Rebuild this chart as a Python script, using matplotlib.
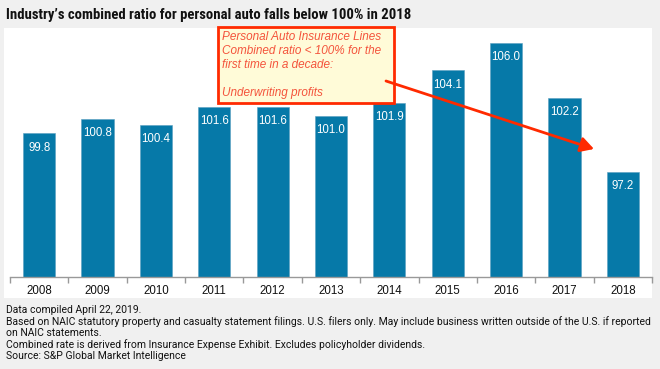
import matplotlib
matplotlib.use("Agg")
import matplotlib.pyplot as plt
from matplotlib.patches import Rectangle, FancyArrowPatch

years = ["2008", "2009", "2010", "2011", "2012", "2013", "2014", "2015", "2016", "2017", "2018"]
ratios = [99.8, 100.8, 100.4, 101.6, 101.6, 101.0, 101.9, 104.1, 106.0, 102.2, 97.2]
title = "Industry\u2019s combined ratio for personal auto falls below 100% in 2018"
note_lines = [
    "Personal Auto Insurance Lines",
    "Combined ratio < 100% for the",
    "first time in a decade:",
    "",
    "Underwriting profits",
]
footer = [
    "Data compiled April 22, 2019.",
    "Based on NAIC statutory property and casualty statement filings. U.S. filers only. May include business written outside of the U.S. if reported",
    "on NAIC statements.",
    "Combined rate is derived from Insurance Expense Exhibit. Excludes policyholder dividends.",
    "Source: S&P Global Market Intelligence",
]

TITLE_FONT = ["Roboto Condensed", "DejaVu Sans"]
FOOT_FONT = ["Roboto", "DejaVu Sans"]
BODY = ["Liberation Sans", "DejaVu Sans"]

W, H = 660, 369
fig = plt.figure(figsize=(W / 100, H / 100), dpi=100, facecolor="#f0f0f0")

def fx(x):
    return x / W

def fy(y):
    return 1 - y / H

# white panel
fig.patches.append(Rectangle((fx(4), fy(298)), fx(652) - fx(4), fy(28) - fy(298),
                             transform=fig.transFigure, facecolor="white", edgecolor="none", zorder=-1))

fig.text(fx(6), fy(15), title, fontsize=10.6, family=TITLE_FONT, fontweight="bold",
         va="center", ha="left", color="#111111")

ax = fig.add_axes([fx(10), fy(277), fx(652) - fx(10), fy(28) - fy(277)])
ax.set_zorder(1)
ax.set_facecolor("none")
x = range(len(years))
ax.bar(x, ratios, width=0.55, color="#0679a8", edgecolor="#5aa0c0", linewidth=0.4, zorder=2)
ax.set_ylim(90, 107)
ax.set_xlim(-0.5, len(years) - 0.5)
for xi, v in zip(x, ratios):
    ax.text(xi, v - 0.55, f"{v:.1f}", ha="center", va="top", color="white", fontsize=8.3,
            family=BODY, zorder=3)
for s in ["top", "right", "left"]:
    ax.spines[s].set_visible(False)
ax.spines["bottom"].set_color("#999999")
ax.spines["bottom"].set_linewidth(1)
ax.set_yticks([])
ax.set_xticks(list(x))
ax.set_xticklabels(years, fontsize=8.3, family=BODY, color="#111111")
ax.tick_params(axis="x", length=0, pad=6)
ax.set_xticks([i - 0.5 for i in range(len(years) + 1)], minor=True)
ax.tick_params(axis="x", which="minor", length=4, color="#999999", width=1)

# annotation box
bx0, by0, bx1, by1 = 218, 27, 394, 103
box = Rectangle((fx(bx0), fy(by1)), fx(bx1) - fx(bx0), fy(by0) - fy(by1),
                transform=fig.transFigure, facecolor="#fffbd8", edgecolor="#ff2a00",
                linewidth=2, zorder=5)
fig.add_artist(box)
for i, line in enumerate(note_lines):
    t = fig.text(fx(222), fy(37 + i * 14), line, fontsize=8.5, style="italic", color="#f4543c",
                 family=BODY, va="center", ha="left")
    t.set_zorder(6)
arr = FancyArrowPatch((fx(386), fy(81)), (fx(594), fy(149)), transform=fig.transFigure,
                      arrowstyle="-|>,head_length=8,head_width=4.5", color="#ff2a00",
                      linewidth=2, mutation_scale=1, shrinkA=0, shrinkB=0, zorder=6)
fig.add_artist(arr)

for i, line in enumerate(footer):
    fig.text(fx(6), fy(310 + i * 11.5), line, fontsize=7.45, family=FOOT_FONT, color="#111111",
             va="center", ha="left")

fig.savefig("out.png", dpi=100, facecolor=fig.get_facecolor())
